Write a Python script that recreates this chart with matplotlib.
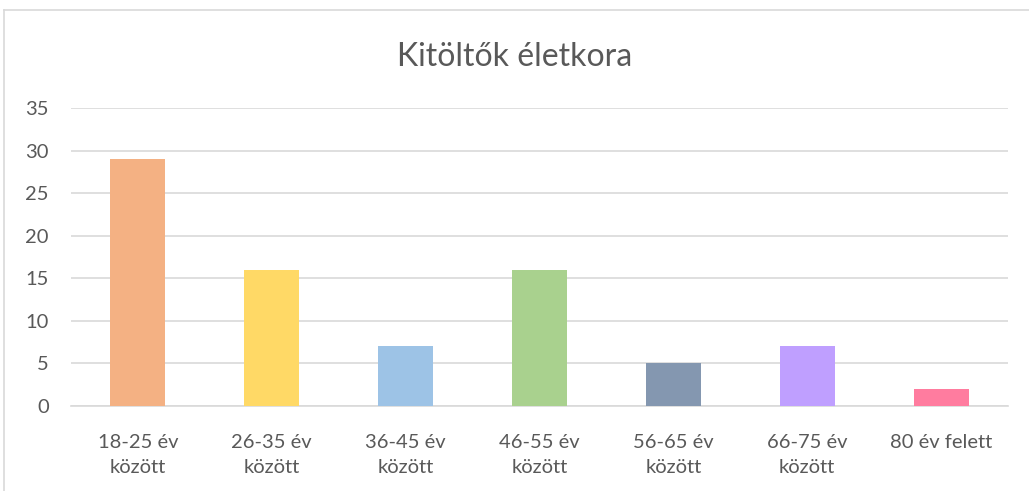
import matplotlib.pyplot as plt
from matplotlib.lines import Line2D

# adatok
categories = ['18-25 év\nközött', '26-35 év\nközött', '36-45 év\nközött', '46-55 év\nközött',
              '56-65 év\nközött', '66-75 év\nközött', '80 év felett']
values = [29, 16, 7, 16, 5, 7, 2]
colors = ['#F4B183', '#FFD966', '#9DC3E6', '#A9D18E', '#8497B0', '#BF9FFF', '#FF7C9F']
yticks = [0, 5, 10, 15, 20, 25, 30, 35]

plt.rcParams['font.family'] = ['Lato', 'DejaVu Sans']
text_color = '#595959'

fig = plt.figure(figsize=(10.29, 4.91), dpi=100)
ax = fig.add_axes([71 / 1029, 1 - 406 / 491, 937 / 1029, 298 / 491])

x = range(len(categories))
ax.bar(x, values, width=0.41, color=colors, zorder=3)

ax.set_xlim(-0.5, len(categories) - 0.5)
ax.set_ylim(0, 35)
ax.set_yticks(yticks)
ax.set_xticks(list(x))
ax.set_xticklabels(categories, fontsize=14.5, color=text_color, linespacing=1.6)
ax.tick_params(axis='y', labelsize=14.5, labelcolor=text_color, length=0, pad=16)
ax.tick_params(axis='x', length=0, pad=20)
ax.grid(axis='y', color='#D9D9D9', linewidth=1.2, zorder=0)
for side in ['top', 'right', 'left']:
    ax.spines[side].set_visible(False)
ax.spines['bottom'].set_color('#D9D9D9')
ax.spines['bottom'].set_linewidth(1.2)

fig.text(0.5, 1 - 57 / 491, 'Kitöltők életkora', ha='center', va='center',
         fontsize=23, color=text_color)

# keret
fig.add_artist(Line2D([4 / 1029, 4 / 1029], [0, 1 - 10 / 491], color='#D9D9D9', linewidth=1.2))
fig.add_artist(Line2D([4 / 1029, 1], [1 - 10 / 491, 1 - 10 / 491], color='#D9D9D9', linewidth=1.2))

fig.savefig('out.png', dpi=100, facecolor='white')
